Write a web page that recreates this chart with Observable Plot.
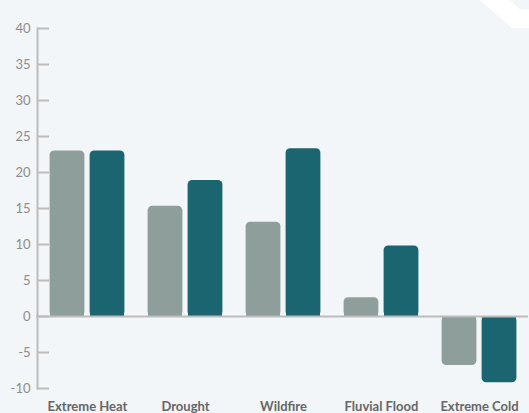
<!DOCTYPE html>
<html>
<head>
<meta charset="utf-8">
<script src="https://cdn.jsdelivr.net/npm/d3@7"></script>
<script src="https://cdn.jsdelivr.net/npm/@observablehq/plot@0.6"></script>
<style>
  html, body { margin: 0; padding: 0; background: #f2f6f9; }
  #wrap { position: relative; width: 529px; height: 413px; overflow: hidden; background: #f2f6f9; }
  #corner { position: absolute; left: 0; top: 0; }
  #chart { position: absolute; left: 0; top: 0; }
</style>
</head>
<body>
<div id="wrap">
  <svg id="corner" width="529" height="413">
    <polygon points="480,0 510,0 520,9.5 529,9.5 529,28 512,28" fill="#ffffff"></polygon>
  </svg>
  <div id="chart"></div>
</div>
<script>
// Hazard categories and the two series (grey = first scenario, teal = second)
const categories = ["Extreme Heat", "Drought", "Wildfire", "Fluvial Flood", "Extreme Cold"];
const seriesGrey = [23.0, 15.3, 13.1, 2.6, -6.8];
const seriesTeal = [23.0, 18.9, 23.3, 9.8, -9.2];
const yTicks = [-10, -5, 0, 5, 10, 15, 20, 25, 30, 35, 40];

const greyColor = "#8e9e9a";
const tealColor = "#1b6570";

const rows = [
  ...categories.map((c, i) => ({category: c, value: seriesGrey[i], series: "grey"})),
  ...categories.map((c, i) => ({category: c, value: seriesTeal[i], series: "teal"}))
];

const barWidth = 35;
const width = 529, height = 413;
const marginLeft = 37, marginRight = 1;
const step = (width - marginLeft - marginRight) / categories.length;
const inset = (step - barWidth) / 2;

// One pair of bars per category: rounded end bar plus a square half-bar hiding the base rounding
function pair(series, color, dx) {
  const data = rows.filter(d => d.series === series);
  return [
    Plot.barY(data, {x: "category", y: "value", fill: color, rx: 4.5, insetLeft: inset, insetRight: inset, dx}),
    Plot.barY(data, {x: "category", y: d => d.value / 2, fill: color, insetLeft: inset, insetRight: inset, dx, shapeRendering: "crispEdges"})
  ];
}

const chart = Plot.plot({
  width, height,
  marginTop: 28, marginBottom: 25, marginLeft, marginRight,
  style: {background: "transparent", fontFamily: "Lato, sans-serif"},
  x: {domain: categories, padding: 0, label: null},
  y: {domain: [-10, 40], label: null},
  marks: [
    ...pair("grey", greyColor, -20),
    ...pair("teal", tealColor, 20),
    Plot.ruleY([0], {stroke: "#bcbcbc", strokeWidth: 2, insetLeft: -1}),
    Plot.frame({anchor: "left", stroke: "#bcbcbc", strokeWidth: 2, strokeOpacity: 1}),
    Plot.axisY(yTicks, {tickSize: -12, tickPadding: 19, stroke: "#bcbcbc", strokeWidth: 2, strokeOpacity: 1,
      fill: "#8c8c8c", fontSize: 13, tickFormat: d => String(d)}),
    Plot.axisX({tickSize: 0, tickPadding: 13, fill: "#666666", fontSize: 13, fontWeight: "bold"})
  ]
});
document.getElementById("chart").appendChild(chart);
</script>
</body>
</html>
